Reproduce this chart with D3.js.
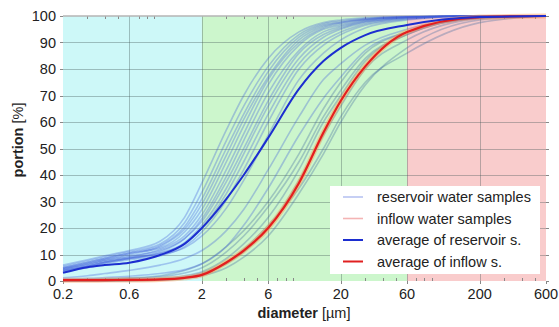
<!DOCTYPE html>
<html>
<head>
<meta charset="utf-8">
<script src="https://cdn.jsdelivr.net/npm/d3@7"></script>
<style>
  body { margin: 0; background: #fff; }
  svg text { font-family: "Liberation Sans", Arial, sans-serif; fill: #222; }
</style>
</head>
<body>
<svg width="559" height="327"></svg>
<script>
// grain diameters in µm (x positions of the read-off points)
const diameters = [0.2, 0.3, 0.4, 0.6, 1, 1.5, 2, 3, 4, 6, 10, 15, 20, 30, 60, 200, 600];

const xTicks = [0.2, 0.6, 2, 6, 20, 60, 200, 600];
const yTicks = [0, 10, 20, 30, 40, 50, 60, 70, 80, 90, 100];

// size classes shaded in the background
const bandEdges = [0.2, 2, 60, 600];
const bandColors = ['#cdf8f8', '#ccf6cc', '#f9cccc'];

// cumulative portion [%] of each reservoir water sample
const reservoirSamples = [
  [6, 8, 9.5, 11.5, 15, 24, 37, 57, 70, 84, 94, 97.5, 98.5, 99.3, 99.8, 100, 100],
  [5.5, 7.5, 9, 11, 14, 22, 33.5, 53, 66, 81, 93, 97, 98, 99, 99.7, 100, 100],
  [5, 7, 8.5, 10.5, 13.5, 20.5, 31, 50, 63, 79, 92, 96.5, 97.5, 98.8, 99.6, 100, 100],
  [4.5, 6.5, 8, 10, 13, 19.5, 29, 47.5, 61, 77, 91, 96, 97.5, 98.7, 99.6, 100, 100],
  [5, 7, 8.5, 10.5, 12.5, 18.5, 27, 45, 58.5, 76, 90, 95.5, 97, 98.5, 99.5, 100, 100],
  [4.5, 6, 7.5, 9, 12, 17, 25, 42, 55.5, 74, 89, 95, 96.5, 98.3, 99.5, 100, 100],
  [4, 5.5, 7, 8.5, 11, 16, 23.5, 39.5, 53, 71, 87, 94, 96, 98, 99.4, 100, 100],
  [4.8, 6.5, 8, 9.5, 11.5, 16, 22.5, 37.5, 50, 68, 86, 93, 95.5, 97.8, 99.3, 100, 100],
  [3.8, 5.5, 7, 8.5, 10.5, 14.5, 21, 35, 48, 66, 84, 92, 95, 97.5, 99.2, 100, 100],
  [4.2, 6, 7.5, 9, 10.5, 14, 20, 33, 45, 63, 82, 90.5, 94, 97, 99, 100, 100],
  [3.5, 5, 6.5, 8, 9.5, 13, 18.5, 30.5, 42, 60, 80, 89, 93, 96.5, 98.8, 100, 100],
  [4, 5.5, 7, 8.5, 10, 12.5, 17, 27.5, 38, 55, 76, 86, 91, 95.5, 98.5, 100, 100],
  [1.2, 2, 2.8, 4, 6, 8.5, 11.5, 19, 27, 42, 62, 76, 82, 89, 95, 99.3, 100],
  [0.8, 1, 1.3, 1.8, 2.8, 4.3, 6.5, 13, 21, 35, 55, 69, 77, 87, 94, 99.3, 100]
];

// cumulative portion [%] of each inflow water sample
const inflowSamples = [
  [0, 0, 0, 0, 0.3, 1, 2, 5, 9, 17, 33, 48, 60, 74, 88, 98.5, 100],
  [0, 0, 0, 0.1, 0.4, 1.2, 2.5, 6.5, 11, 20, 38, 55, 66, 80, 91, 99, 100],
  [0.2, 0.2, 0.3, 0.5, 1, 2, 3.5, 8.5, 14, 24, 42, 60, 70, 83, 93, 99.3, 100],
  [0, 0, 0, 0.2, 0.5, 1.5, 3, 7, 12, 21, 35, 50, 62, 75, 86, 97.5, 100],
  [0.5, 0.6, 0.8, 1.2, 2, 4, 6.5, 13, 19, 30, 48, 65, 75, 86, 94, 99.5, 100],
  [0.3, 0.4, 0.6, 1, 1.6, 3, 5, 11, 17, 28, 45, 62, 72, 84, 93, 99.4, 100]
];

const avgReservoir = [3.1, 5.2, 6.0, 6.9, 9.8, 14, 20, 31, 40, 54, 72.5, 83, 88, 92.8, 96.6, 99.6, 100];
const avgInflow = [0.3, 0.3, 0.35, 0.4, 0.6, 1.2, 2.3, 7, 11.5, 20, 37, 56, 68, 81, 94, 99.6, 100];

const legendLabels = ['reservoir water samples', 'inflow water samples',
                      'average of reservoir s.', 'average of inflow s.'];
const legendColors = ['#b8c4f2', '#f4b4b4', '#1c2ed0', '#e02020'];

const plotLeft = 63, plotRight = 546, plotTop = 16, plotBottom = 281;
const fontSize = 14.5;

const svg = d3.select('svg');

const x = d3.scaleLog().domain([0.2, 600]).range([plotLeft, plotRight]);
const y = d3.scaleLinear().domain([0, 100]).range([plotBottom, plotTop]);

// background bands
svg.selectAll('.band')
  .data(bandColors)
  .join('rect')
  .attr('x', (d, i) => x(bandEdges[i]))
  .attr('y', plotTop)
  .attr('width', (d, i) => x(bandEdges[i + 1]) - x(bandEdges[i]))
  .attr('height', plotBottom - plotTop)
  .attr('fill', d => d);

// grid
const grid = svg.append('g').attr('stroke', 'rgba(60,80,80,0.35)').attr('stroke-width', 1);
grid.selectAll('.hg')
  .data(yTicks.slice(1, -1))
  .join('line')
  .attr('x1', plotLeft).attr('x2', plotRight)
  .attr('y1', d => Math.round(y(d)) + 0.5).attr('y2', d => Math.round(y(d)) + 0.5);
grid.selectAll('.vg')
  .data(xTicks.slice(1, -1))
  .join('line')
  .attr('y1', plotTop).attr('y2', plotBottom)
  .attr('x1', d => Math.round(x(d)) + 0.5).attr('x2', d => Math.round(x(d)) + 0.5);

// minor ticks on top and bottom
let minor = [];
[0.1, 1, 10, 100].forEach(dec => {
  for (let k = 2; k <= 9; k++) {
    const v = +(k * dec).toFixed(3);
    if (v > 0.2 && v < 600 && !xTicks.includes(v)) minor.push(v);
  }
});
const tk = svg.append('g').attr('stroke', '#888').attr('stroke-width', 1);
tk.selectAll('.mt')
  .data(minor)
  .join('line')
  .attr('x1', d => Math.round(x(d)) + 0.5).attr('x2', d => Math.round(x(d)) + 0.5)
  .attr('y1', plotTop).attr('y2', plotTop + 3);
tk.selectAll('.mb')
  .data(minor)
  .join('line')
  .attr('x1', d => Math.round(x(d)) + 0.5).attr('x2', d => Math.round(x(d)) + 0.5)
  .attr('y1', plotBottom).attr('y2', plotBottom - 3);
tk.selectAll('.Mb')
  .data(xTicks)
  .join('line')
  .attr('x1', d => Math.round(x(d)) + 0.5).attr('x2', d => Math.round(x(d)) + 0.5)
  .attr('y1', plotBottom).attr('y2', plotBottom + 3);
tk.selectAll('.yl')
  .data(yTicks)
  .join('line')
  .attr('x1', plotLeft - 3).attr('x2', plotLeft)
  .attr('y1', d => Math.round(y(d)) + 0.5).attr('y2', d => Math.round(y(d)) + 0.5);
tk.selectAll('.yr')
  .data(yTicks)
  .join('line')
  .attr('x1', plotRight).attr('x2', plotRight + 3)
  .attr('y1', d => Math.round(y(d)) + 0.5).attr('y2', d => Math.round(y(d)) + 0.5);

// top frame line
svg.append('line')
  .attr('x1', plotLeft).attr('x2', plotRight).attr('y1', plotTop).attr('y2', plotTop)
  .attr('stroke', '#b4b4b4').attr('stroke-width', 1.5);

const line = d3.line()
  .x((d, i) => x(diameters[i]))
  .y(d => y(d))
  .curve(d3.curveMonotoneX);

svg.append('g').selectAll('path')
  .data(inflowSamples)
  .join('path')
  .attr('d', line)
  .attr('fill', 'none')
  .attr('stroke', 'rgba(70,110,160,0.35)')
  .attr('stroke-width', 1.6);

svg.append('g').selectAll('path')
  .data(reservoirSamples)
  .join('path')
  .attr('d', line)
  .attr('fill', 'none')
  .attr('stroke', 'rgba(60,90,220,0.33)')
  .attr('stroke-width', 1.6);

svg.append('path')
  .attr('d', line(avgInflow))
  .attr('fill', 'none')
  .attr('stroke', 'rgba(255,150,80,0.45)')
  .attr('stroke-width', 5);
svg.append('path')
  .attr('d', line(avgInflow))
  .attr('fill', 'none')
  .attr('stroke', '#e51e1e')
  .attr('stroke-width', 2.2);
svg.append('path')
  .attr('d', line(avgReservoir))
  .attr('fill', 'none')
  .attr('stroke', '#1c2ed0')
  .attr('stroke-width', 2);

// axis labels
svg.selectAll('.xt')
  .data(xTicks)
  .join('text')
  .attr('x', d => x(d))
  .attr('y', 299)
  .attr('text-anchor', 'middle')
  .attr('font-size', fontSize)
  .text(d => d);
svg.selectAll('.yt')
  .data(yTicks)
  .join('text')
  .attr('x', 56)
  .attr('y', d => y(d) + 5)
  .attr('text-anchor', 'end')
  .attr('font-size', fontSize)
  .text(d => d);

const xl = svg.append('text')
  .attr('x', 304).attr('y', 318)
  .attr('text-anchor', 'middle')
  .attr('font-size', fontSize);
xl.append('tspan').attr('font-weight', 'bold').text('diameter');
xl.append('tspan').text(' [µm]');

const yl = svg.append('text')
  .attr('transform', 'translate(23,140) rotate(-90)')
  .attr('text-anchor', 'middle')
  .attr('font-size', fontSize);
yl.append('tspan').attr('font-weight', 'bold').text('portion');
yl.append('tspan').text(' [%]');

// legend
const lg = svg.append('g');
lg.append('rect')
  .attr('x', 330).attr('y', 186).attr('width', 210).attr('height', 88)
  .attr('fill', '#fff');
const rows = lg.selectAll('.row')
  .data(legendLabels)
  .join('g')
  .attr('transform', (d, i) => `translate(0,${197 + i * 21.5})`);
rows.append('line')
  .attr('x1', 343).attr('x2', 363)
  .attr('stroke', (d, i) => legendColors[i])
  .attr('stroke-width', (d, i) => i < 2 ? 1.6 : 2);
rows.append('text')
  .attr('x', 377).attr('y', 5)
  .attr('font-size', fontSize)
  .text(d => d);
</script>
</body>
</html>
